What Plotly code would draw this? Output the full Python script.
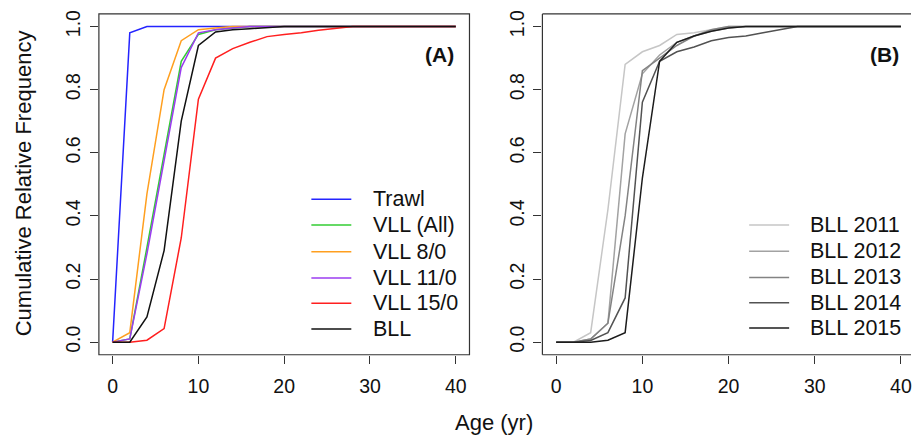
import plotly.graph_objects as go

# ---------------- data ----------------
ages = list(range(0, 41, 2))

# Panel A
trawl    = [0, 0.98, 1, 1, 1, 1, 1, 1, 1, 1, 1, 1, 1, 1, 1, 1, 1, 1, 1, 1, 1]
vll_all  = [0, 0.01, 0.30, 0.60, 0.89, 0.975, 0.99, 0.995, 1, 1, 1, 1, 1, 1, 1, 1, 1, 1, 1, 1, 1]
vll_8    = [0, 0.03, 0.47, 0.80, 0.955, 0.99, 0.995, 1, 1, 1, 1, 1, 1, 1, 1, 1, 1, 1, 1, 1, 1]
vll_11   = [0, 0.01, 0.28, 0.58, 0.87, 0.98, 0.99, 0.995, 1, 1, 1, 1, 1, 1, 1, 1, 1, 1, 1, 1, 1]
vll_15   = [0, 0, 0.006, 0.043, 0.33, 0.77, 0.90, 0.93, 0.95, 0.968, 0.975, 0.98, 0.988, 0.995, 1, 1, 1, 1, 1, 1, 1]
bll      = [0, 0, 0.08, 0.29, 0.70, 0.94, 0.983, 0.99, 0.993, 0.997, 1, 1, 1, 1, 1, 1, 1, 1, 1, 1, 1]

names_a  = ["Trawl", "VLL (All)", "VLL 8/0", "VLL 11/0", "VLL 15/0", "BLL"]
series_a = [trawl, vll_all, vll_8, vll_11, vll_15, bll]
colors_a = ["#2424ff", "#33cc33", "#ff9f1f", "#9b3cf0", "#ff1f1f", "#111111"]

# Panel B
bll_2011 = [0, 0, 0.03, 0.42, 0.88, 0.92, 0.94, 0.975, 0.98, 0.99, 1, 1, 1, 1, 1, 1, 1, 1, 1, 1, 1]
bll_2012 = [0, 0, 0.01, 0.06, 0.66, 0.85, 0.91, 0.95, 0.97, 0.985, 0.995, 1, 1, 1, 1, 1, 1, 1, 1, 1, 1]
bll_2013 = [0, 0, 0.01, 0.06, 0.40, 0.86, 0.90, 0.94, 0.97, 0.99, 1, 1, 1, 1, 1, 1, 1, 1, 1, 1, 1]
bll_2014 = [0, 0, 0.005, 0.03, 0.14, 0.76, 0.89, 0.92, 0.935, 0.955, 0.965, 0.97, 0.98, 0.99, 1, 1, 1, 1, 1, 1, 1]
bll_2015 = [0, 0, 0, 0.006, 0.03, 0.52, 0.89, 0.95, 0.97, 0.985, 0.995, 1, 1, 1, 1, 1, 1, 1, 1, 1, 1]

names_b  = ["BLL 2011", "BLL 2012", "BLL 2013", "BLL 2014", "BLL 2015"]
series_b = [bll_2011, bll_2012, bll_2013, bll_2014, bll_2015]
colors_b = ["#c6c6c6", "#a2a2a2", "#838383", "#525252", "#1c1c1c"]

x_ticks = [0, 10, 20, 30, 40]
y_ticks = [0.0, 0.2, 0.4, 0.6, 0.8, 1.0]
y_ticktext = ["0.0", "0.2", "0.4", "0.6", "0.8", "1.0"]

# ---------------- figure ----------------
W, H = 912, 436
FONT = "Liberation Sans, Arial, sans-serif"

fig = go.Figure()
for name, ys, c in zip(names_a, series_a, colors_a):
    fig.add_trace(go.Scatter(x=ages, y=ys, mode="lines", name=name,
                             line=dict(color=c, width=1.5), xaxis="x", yaxis="y",
                             showlegend=False))
for name, ys, c in zip(names_b, series_b, colors_b):
    fig.add_trace(go.Scatter(x=ages, y=ys, mode="lines", name=name,
                             line=dict(color=c, width=1.5), xaxis="x2", yaxis="y2",
                             showlegend=False))

def px_x(p):
    return p / W

def px_y(p):
    return 1 - p / H

top, bot = 10, 354
axL = (99, 470)
axR = (543, 912)

common_x = dict(tickvals=x_ticks, ticks="outside", ticklen=8, tickwidth=1,
                tickcolor="#333", showgrid=False, zeroline=False, showline=False,
                tickfont=dict(family=FONT, size=19.5, color="#111"),
                ticklabelstandoff=6, ticklabeloverflow="allow")
common_y = dict(range=[-0.04, 1.04], tickvals=y_ticks, ticktext=y_ticktext,
                ticks="outside", ticklen=8, tickwidth=1, tickcolor="#333",
                showgrid=False, zeroline=False, showline=False, tickangle=-90,
                tickfont=dict(family=FONT, size=19.5, color="#111"),
                ticklabelstandoff=2)

fig.update_layout(
    width=W, height=H,
    margin=dict(l=0, r=0, t=0, b=0),
    paper_bgcolor="white", plot_bgcolor="white",
    xaxis=dict(domain=[px_x(axL[0]), px_x(axL[1])], range=[-1.6, 41.6], anchor="y", **common_x),
    yaxis=dict(domain=[px_y(bot), px_y(top)], anchor="x", **common_y),
    xaxis2=dict(domain=[px_x(axR[0]), 1.0], range=[-1.6, 41.17], anchor="y2", **common_x),
    yaxis2=dict(domain=[px_y(bot), px_y(top)], anchor="x2", **common_y),
)

shapes = []
frame = dict(color="#333", width=1.2)
# panel A box
shapes.append(dict(type="rect", xref="paper", yref="paper",
                   x0=px_x(axL[0]), x1=px_x(axL[1]), y0=px_y(bot), y1=px_y(top), line=frame))
# panel B box (right side cut off)
for (x0, y0, x1, y1) in [(axR[0], top, 912, top), (axR[0], bot, 912, bot), (axR[0], top, axR[0], bot)]:
    shapes.append(dict(type="line", xref="paper", yref="paper",
                       x0=px_x(x0), x1=px_x(x1), y0=px_y(y0), y1=px_y(y1), line=frame))

annotations = []
# legend A
leg_a_y = [197, 223, 250, 276.5, 302, 328]
for name, c, yy in zip(names_a, colors_a, leg_a_y):
    shapes.append(dict(type="line", xref="paper", yref="paper",
                       x0=px_x(311.7), x1=px_x(351.7), y0=px_y(yy), y1=px_y(yy),
                       line=dict(color=c, width=1.5)))
    annotations.append(dict(text=name, xref="paper", yref="paper", x=px_x(371), y=px_y(yy),
                            xanchor="left", yanchor="middle", showarrow=False,
                            font=dict(family=FONT, size=21.5, color="#111")))
# legend B
leg_b_y = [223, 249.5, 276, 301.5, 327]
for name, c, yy in zip(names_b, colors_b, leg_b_y):
    shapes.append(dict(type="line", xref="paper", yref="paper",
                       x0=px_x(750), x1=px_x(790), y0=px_y(yy), y1=px_y(yy),
                       line=dict(color=c, width=1.5)))
    annotations.append(dict(text=name, xref="paper", yref="paper", x=px_x(809), y=px_y(yy),
                            xanchor="left", yanchor="middle", showarrow=False,
                            font=dict(family=FONT, size=21.5, color="#111")))

# panel labels
annotations.append(dict(text="<b>(A)</b>", xref="paper", yref="paper", x=px_x(456), y=px_y(51),
                        xanchor="right", yanchor="middle", showarrow=False,
                        font=dict(family=FONT, size=21, color="#111")))
annotations.append(dict(text="<b>(B)</b>", xref="paper", yref="paper", x=px_x(902), y=px_y(51),
                        xanchor="right", yanchor="middle", showarrow=False,
                        font=dict(family=FONT, size=21, color="#111")))
# axis titles
annotations.append(dict(text="Age (yr)", xref="paper", yref="paper", x=px_x(495), y=px_y(422),
                        xanchor="center", yanchor="middle", showarrow=False,
                        font=dict(family=FONT, size=22, color="#111")))
annotations.append(dict(text="Cumulative Relative Frequency", xref="paper", yref="paper",
                        x=px_x(23), y=px_y(181), xanchor="center", yanchor="middle",
                        textangle=-90, showarrow=False,
                        font=dict(family=FONT, size=22, color="#111")))

fig.update_layout(shapes=shapes, annotations=annotations)
fig.write_html("out.html", config={"displayModeBar": False},
               post_script="document.body.style.margin='0';document.body.style.overflow='hidden';")
